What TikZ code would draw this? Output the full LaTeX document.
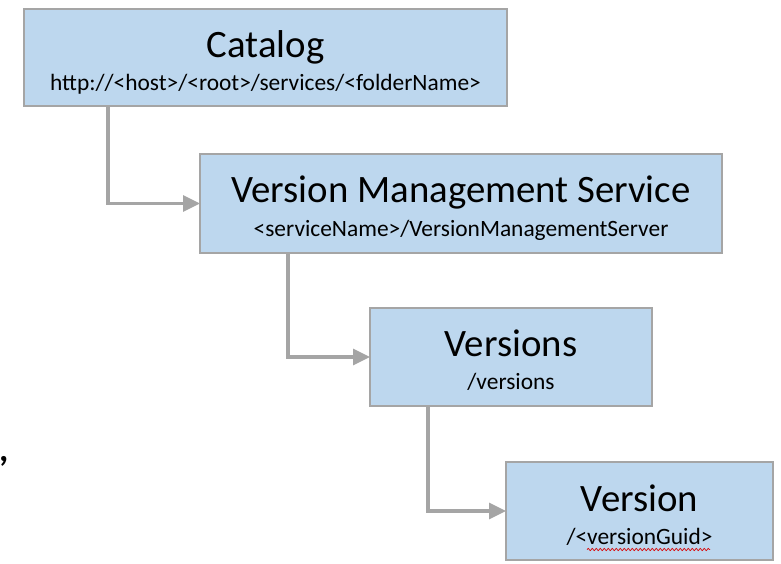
\documentclass[tikz,border=0pt]{standalone}
\usepackage{fontspec}
\setmainfont{Carlito}
\usetikzlibrary{arrows.meta,decorations.pathmorphing}
\definecolor{boxfill}{HTML}{BDD7EE}
\definecolor{edgegray}{HTML}{A5A5A5}
\begin{document}
\begin{tikzpicture}[x=1pt,y=-1pt,
  box/.style={draw=edgegray, fill=boxfill, line width=2.5pt, rectangle,
              inner sep=0pt, outer sep=0pt},
  title/.style={anchor=base, inner sep=0pt, font=\fontsize{38.8}{40}\selectfont},
  urlpath/.style={anchor=base, inner sep=0pt, font=\fontsize{23.4}{26}\selectfont},
  link/.style={draw=edgegray, line width=3.2pt,
               -{Triangle[length=17pt,width=16pt]}}]
\useasboundingbox (0,0) rectangle (781,563);

% resource boxes
\node[box, minimum width=483pt, minimum height=97pt] (catalog)  at (265.5,57.5) {};
\node[box, minimum width=522pt, minimum height=99pt] (vms)      at (461,203.5) {};
\node[box, minimum width=282pt, minimum height=98pt] (versions) at (511,357) {};
\node[box, minimum width=267pt, minimum height=98pt] (version)  at (639.5,511) {};

% titles and URL fragments
\node[title]   (catalogT)  at (265.5,57)  {Catalog};
\node[urlpath] (catalogU)  at (265.5,90)  {http://<host>/<root>/services/<folderName>};
\node[title]   (vmsT)      at (461,202)   {Version Management Service};
\node[urlpath] (vmsU)      at (461,236)   {<serviceName>/VersionManagementServer};
\node[title]   (versionsT) at (511,356)   {Versions};
\node[urlpath] (versionsU) at (511,389)   {/versions};
\node[title]   (versionT)  at (639.5,511) {Version};
\node[urlpath] (versionU)  at (639.5,544) {/<versionGuid>};

% spell-check squiggle under the GUID placeholder
\draw[red!85!black, line width=0.7pt, decorate,
      decoration={snake, amplitude=1.1pt, segment length=4pt}]
  (587,549.5) -- (710,549.5);

% stray comma at the left edge
\node[anchor=base west, inner sep=0pt,
      font=\bfseries\fontsize{36}{36}\selectfont] (comma) at (-1,461) {,};

% hierarchy connectors
\draw[link] ([xshift=84pt]catalog.south west)  |- (vms.west);
\draw[link] ([xshift=88pt]vms.south west)      |- (versions.west);
\draw[link] ([xshift=58pt]versions.south west) |- (version.west);
\end{tikzpicture}
\end{document}
